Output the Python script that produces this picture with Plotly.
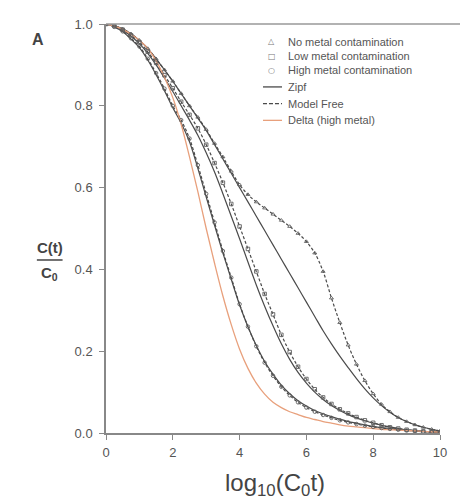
import plotly.graph_objects as go

# sample positions (log10(C0 t))
x_vals = [0, 0.25, 0.5, 0.75, 1.0, 1.25, 1.5, 1.75, 2.0, 2.25, 2.5, 2.75, 3.0, 3.25, 3.5, 3.75,
          4.0, 4.25, 4.5, 4.75, 5.0, 5.25, 5.5, 5.75, 6.0, 6.25, 6.5, 6.75, 7.0, 7.25, 7.5, 7.75,
          8.0, 8.25, 8.5, 8.75, 9.0, 9.25, 9.5, 9.75, 10.0]

# measured C(t)/C0 (also traced by the model-free fits)
no_metal = [1.0, 0.996, 0.988, 0.976, 0.96, 0.94, 0.915, 0.888, 0.86, 0.83, 0.80, 0.772, 0.742, 0.708,
            0.675, 0.64, 0.607, 0.583, 0.565, 0.55, 0.535, 0.52, 0.505, 0.488, 0.468, 0.44, 0.395,
            0.33, 0.27, 0.215, 0.168, 0.128, 0.096, 0.07, 0.052, 0.038, 0.028, 0.02, 0.014, 0.009, 0.005]
low_metal = [1.0, 0.995, 0.986, 0.972, 0.955, 0.932, 0.905, 0.875, 0.843, 0.81, 0.778, 0.745, 0.705,
             0.66, 0.612, 0.56, 0.505, 0.45, 0.395, 0.34, 0.29, 0.24, 0.198, 0.162, 0.132, 0.107,
             0.087, 0.071, 0.058, 0.048, 0.039, 0.031, 0.025, 0.019, 0.014, 0.011, 0.008, 0.006,
             0.004, 0.002, 0.001]
high_metal = [1.0, 0.993, 0.982, 0.965, 0.945, 0.915, 0.88, 0.842, 0.80, 0.765, 0.72, 0.655, 0.585,
              0.515, 0.445, 0.38, 0.315, 0.26, 0.212, 0.172, 0.14, 0.113, 0.092, 0.075, 0.062, 0.052,
              0.044, 0.037, 0.031, 0.026, 0.022, 0.018, 0.015, 0.012, 0.01, 0.008, 0.006, 0.005,
              0.003, 0.002, 0.001]

# Zipf fits
zipf_no = [1.0, 0.996, 0.988, 0.976, 0.96, 0.94, 0.915, 0.888, 0.86, 0.83, 0.80, 0.77, 0.74, 0.705,
           0.67, 0.635, 0.60, 0.565, 0.53, 0.495, 0.46, 0.425, 0.39, 0.355, 0.32, 0.285, 0.25, 0.218,
           0.188, 0.16, 0.133, 0.108, 0.086, 0.067, 0.051, 0.038, 0.028, 0.02, 0.014, 0.009, 0.005]
zipf_low = [1.0, 0.995, 0.985, 0.97, 0.952, 0.928, 0.90, 0.868, 0.835, 0.80, 0.765, 0.728, 0.685,
            0.638, 0.585, 0.53, 0.475, 0.418, 0.362, 0.31, 0.262, 0.218, 0.18, 0.148, 0.122, 0.10,
            0.082, 0.067, 0.055, 0.045, 0.037, 0.03, 0.024, 0.019, 0.015, 0.011, 0.008, 0.006,
            0.004, 0.003, 0.002]
zipf_high = [1.0, 0.993, 0.981, 0.963, 0.942, 0.912, 0.876, 0.837, 0.795, 0.758, 0.712, 0.647, 0.577,
             0.508, 0.44, 0.376, 0.313, 0.26, 0.214, 0.175, 0.144, 0.117, 0.096, 0.079, 0.066, 0.055,
             0.047, 0.04, 0.034, 0.028, 0.024, 0.02, 0.016, 0.013, 0.011, 0.009, 0.007, 0.005,
             0.004, 0.003, 0.002]

# Delta fit (high metal)
delta_high = [1.0, 0.995, 0.987, 0.975, 0.96, 0.94, 0.91, 0.87, 0.82, 0.755, 0.675, 0.59, 0.50,
              0.415, 0.335, 0.265, 0.205, 0.158, 0.122, 0.095, 0.075, 0.062, 0.052, 0.045, 0.038,
              0.033, 0.028, 0.024, 0.02, 0.017, 0.015, 0.013, 0.011, 0.009, 0.008, 0.007, 0.006,
              0.005, 0.004, 0.003, 0.002]

x_ticks = [0, 2, 4, 6, 8, 10]
y_ticks = [0.0, 0.2, 0.4, 0.6, 0.8, 1.0]
y_ticklabels = ["0.0", "0.2", "0.4", "0.6", "0.8", "1.0"]

legend_labels = ["No metal contamination", "Low metal contamination", "High metal contamination",
                 "Zipf", "Model Free", "Delta (high metal)"]
legend_glyphs = ["\u25B3", "\u25A1", "\u25CB"]

DARK = "#4a4a4a"
ORANGE = "#e8a07c"
GRAY = "#606060"
FONT = "Liberation Sans, Arial, sans-serif"
DASH = "3px,2px"

fig = go.Figure()

for ys in (no_metal, low_metal, high_metal):
    fig.add_trace(go.Scatter(x=x_vals, y=ys, mode="lines",
                             line=dict(color=DARK, width=1.2, dash=DASH, shape="spline"),
                             showlegend=False, hoverinfo="skip"))
for ys in (zipf_no, zipf_low, zipf_high):
    fig.add_trace(go.Scatter(x=x_vals, y=ys, mode="lines",
                             line=dict(color=DARK, width=1.2, shape="spline"),
                             showlegend=False, hoverinfo="skip"))
fig.add_trace(go.Scatter(x=x_vals, y=delta_high, mode="lines",
                         line=dict(color=ORANGE, width=1.3, shape="spline"),
                         showlegend=False, hoverinfo="skip"))

for ys, sym in ((no_metal, "triangle-up-open"), (low_metal, "square-open"), (high_metal, "circle-open")):
    fig.add_trace(go.Scatter(x=x_vals, y=ys, mode="markers", showlegend=False, hoverinfo="skip",
                             marker=dict(symbol=sym, size=3.5, color=GRAY, line=dict(width=0.9, color=GRAY))))

# ---- manual legend (compact rows) ----
row_px = [35, 50, 64, 81, 98, 115]          # screen rows of the reference legend
plot_top, plot_h = 17, 416
row_y = [(plot_top + plot_h - r) / plot_h for r in row_px]
sym_x, line_x0, line_x1, text_x = 0.497, 0.470, 0.527, 0.540

shapes = [
    dict(type="line", xref="paper", yref="paper", x0=0, x1=1.09, y0=1, y1=1,
         line=dict(color="#999999", width=1.5)),
    dict(type="line", xref="paper", yref="paper", x0=-0.207, x1=-0.130, y0=0.423, y1=0.423,
         line=dict(color="#444444", width=1.5)),
]
annotations = [
    dict(text="<b>A</b>", xref="paper", yref="paper", x=-0.204, y=0.962, showarrow=False,
         xanchor="center", yanchor="middle", font=dict(size=16, color="#444444", family=FONT)),
    dict(text="<b>C(t)</b>", xref="paper", yref="paper", x=-0.168, y=0.428, xanchor="center",
         yanchor="bottom", showarrow=False, font=dict(size=15, color="#444444", family=FONT)),
    dict(text="<b>C<sub>0</sub></b>", xref="paper", yref="paper", x=-0.168, y=0.418, xanchor="center",
         yanchor="top", showarrow=False, font=dict(size=15, color="#444444", family=FONT)),
    dict(text="log<sub>10</sub>(C<sub>0</sub>t)", xref="paper", yref="paper", x=0.505, y=-0.127,
         xanchor="center", yanchor="middle", showarrow=False,
         font=dict(size=24, color="#444444", family=FONT)),
]
for i, lab in enumerate(legend_labels):
    annotations.append(dict(text=lab, xref="paper", yref="paper", x=text_x, y=row_y[i], xanchor="left",
                            yanchor="middle", showarrow=False, font=dict(size=11, color="#555555", family=FONT)))
for i, g in enumerate(legend_glyphs):
    annotations.append(dict(text=g, xref="paper", yref="paper", x=sym_x, y=row_y[i], xanchor="center",
                            yanchor="middle", showarrow=False, font=dict(size=8, color="#777777", family="DejaVu Sans")))
legend_lines = [(DARK, "solid"), (DARK, "4px,2px"), (ORANGE, "solid")]
for j, (c, d) in enumerate(legend_lines):
    shapes.append(dict(type="line", xref="paper", yref="paper", x0=line_x0, x1=line_x1,
                       y0=row_y[3 + j], y1=row_y[3 + j], line=dict(color=c, width=1.3, dash=d)))

fig.update_layout(
    width=468, height=501,
    margin=dict(l=98, r=36, t=9, b=76),
    paper_bgcolor="white", plot_bgcolor="white",
    font=dict(family=FONT, color="#555555", size=13),
    showlegend=False,
    xaxis=dict(range=[0, 10], tickvals=x_ticks, ticks="outside", ticklen=5, tickcolor="#888888",
               showline=True, linecolor="#888888", linewidth=1.5, showgrid=False, zeroline=False,
               ticklabelstandoff=2, tickfont=dict(size=13, color="#555555")),
    yaxis=dict(range=[0, 1.0], tickvals=y_ticks, ticktext=y_ticklabels, ticks="outside", ticklen=5,
               tickcolor="#888888", showline=True, linecolor="#888888", linewidth=1.5, showgrid=False,
               zeroline=False, ticklabelstandoff=4, tickfont=dict(size=13, color="#555555")),
    shapes=shapes,
    annotations=annotations,
)

fig.write_html("out.html")
